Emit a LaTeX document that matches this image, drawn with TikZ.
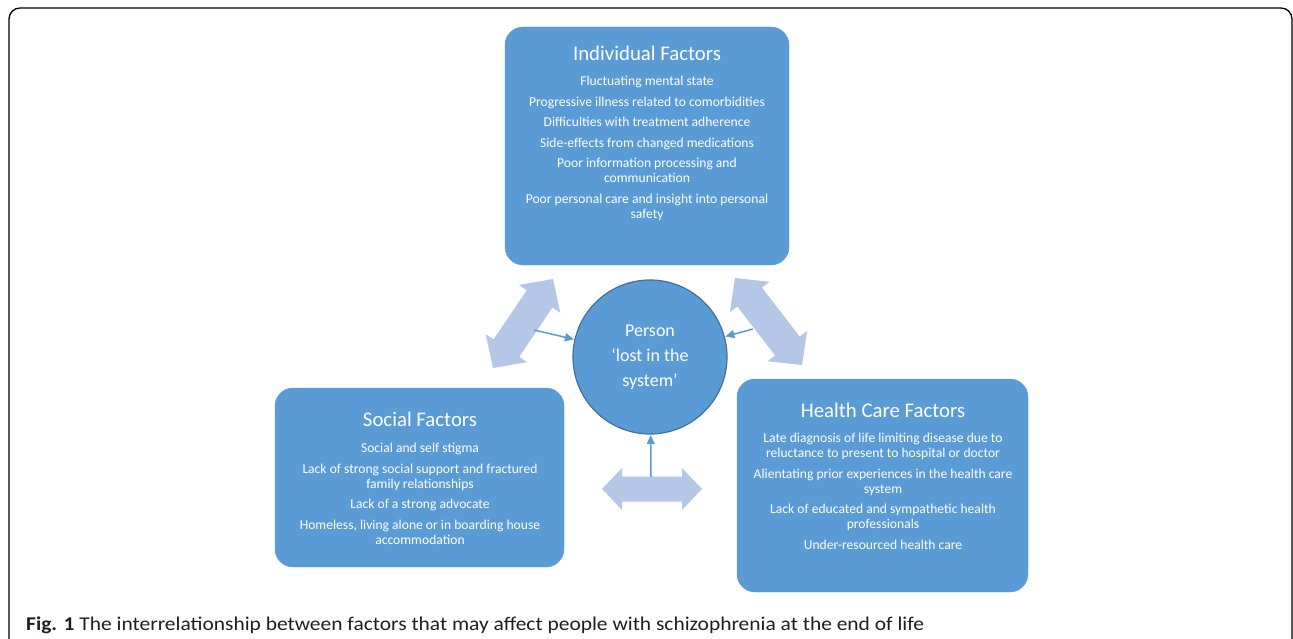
\documentclass[tikz,border=0pt]{standalone}
\usepackage{fontspec}
\setmainfont{Carlito}
\usetikzlibrary{calc,arrows.meta}
\definecolor{boxblue}{HTML}{5B9BD5}
\definecolor{circedge}{HTML}{41719C}
\definecolor{lightarrow}{HTML}{B4C7E7}
\definecolor{captxt}{HTML}{231F20}
\newcommand\dblarr[5]{%
  \path ($(#1)!#3!(#2)$) coordinate (da1) ($(#2)!#3!(#1)$) coordinate (da2);
  \fill[lightarrow] (#1) -- ($(da1)!#4!90:(#2)$) -- ($(da1)!#5!90:(#2)$)
    -- ($(da2)!#5!-90:(#1)$) -- ($(da2)!#4!-90:(#1)$) -- (#2)
    -- ($(da2)!#4!90:(#1)$) -- ($(da2)!#5!90:(#1)$)
    -- ($(da1)!#5!-90:(#2)$) -- ($(da1)!#4!-90:(#2)$) -- cycle;}
\tikzset{
  factorbox/.style={fill=boxblue, draw=boxblue, rounded corners=18pt, inner sep=0pt},
  boxtitle/.style={text=white, inner sep=0pt, font=\fontsize{20.8}{24}\selectfont},
  boxbody/.style={text=white, inner sep=0pt, align=center, anchor=north, font=\fontsize{13.6}{15}\selectfont},
  person/.style={circle, fill=boxblue, draw=circedge, line width=1.2pt, minimum size=154pt, inner sep=0pt,
    text=white, align=center, font=\fontsize{18}{25}\selectfont},
  smallarrow/.style={draw=boxblue, line width=1.5pt, -{Triangle[length=9pt,width=8pt]}, shorten >=0.5pt},
}
\begin{document}
\begin{tikzpicture}[x=1pt,y=-1pt]
\useasboundingbox (0,0) rectangle (1293,639);
\clip (0,0) rectangle (1293,639);
\fill[white] (0,0) rectangle (1293,639);
\draw[line width=1.3pt, rounded corners=11pt] (9,8) rectangle (1292,690);

% boxes
\node[factorbox, minimum width=284pt, minimum height=238pt] (ind) at (647,146) {};
\node[factorbox, minimum width=289pt, minimum height=179pt] (soc) at (419.5,477.5) {};
\node[factorbox, minimum width=291pt, minimum height=213pt] (hc) at (882.5,485.5) {};

\node[boxtitle] (indt) at (647,53) {Individual Factors};
\node[boxbody] (indb) at (647,76) {Fluctuating mental state\\[5.5pt]
Progressive illness related to comorbidities\\[5.5pt]
Difficulties with treatment adherence\\[5.5pt]
Side-effects from changed medications\\[5.5pt]
Poor information processing and\\ communication\\[5.5pt]
Poor personal care and insight into personal\\ safety};

\node[boxtitle] (soct) at (420,419) {Social Factors};
\node[boxbody] (socb) at (420,443) {Social and self stigma\\[5.5pt]
Lack of strong social support and fractured\\ family relationships\\[5.5pt]
Lack of a strong advocate\\[5.5pt]
Homeless, living alone or in boarding house\\ accommodation};

\node[boxtitle] (hct) at (883,410) {Health Care Factors};
\node[boxbody] (hcb) at (883,433) {Late diagnosis of life limiting disease due to\\ reluctance to present to hospital or doctor\\[5.5pt]
Alientating prior experiences in the health care\\ system\\[5.5pt]
Lack of educated and sympathetic health\\ professionals\\[5.5pt]
Under-resourced health care};

% big double arrows
\coordinate (la) at (553,279); \coordinate (lb) at (493,368);
\coordinate (ra) at (735,278); \coordinate (rb) at (802,365);
\coordinate (ba) at (602,489); \coordinate (bb) at (702,489);
\dblarr{la}{lb}{24pt}{25pt}{15.5pt}
\dblarr{ra}{rb}{24pt}{25pt}{15.5pt}
\dblarr{ba}{bb}{20pt}{21pt}{12.5pt}

% person
\node[person] (p) at (650,357) {Person\\ ‘lost in the\\ system’};

% small arrows
\coordinate (s1) at (534,330);
\coordinate (s2) at (753,329);
\coordinate (s3) at (651,477);
\draw[smallarrow] (s1) -- (p);
\draw[smallarrow] (s2) -- (p);
\draw[smallarrow] (s3) -- (p);

% caption
\node[anchor=base west, inner sep=0pt, text=captxt, font=\fontsize{19.5}{22}\selectfont] (cap) at (26,630)
  {\scalebox{1.1}[1]{\textbf{Fig. 1} The interrelationship between factors that may affect people with schizophrenia at the end of life}};
\end{tikzpicture}
\end{document}
